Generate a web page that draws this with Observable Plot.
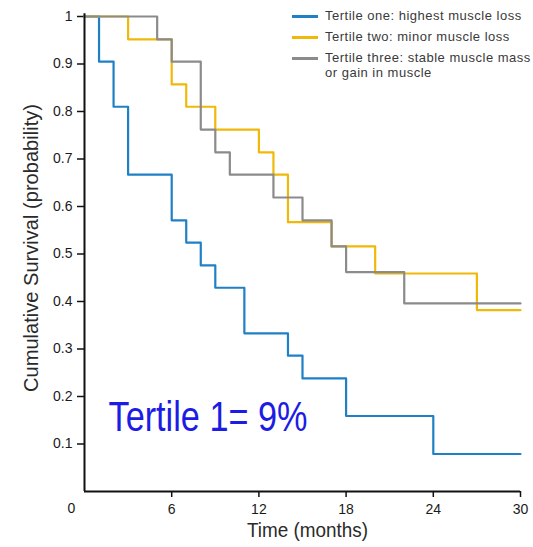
<!DOCTYPE html>
<html>
<head>
<meta charset="utf-8">
<script src="https://cdn.jsdelivr.net/npm/d3@7"></script>
<script src="https://cdn.jsdelivr.net/npm/@observablehq/plot@0.6"></script>
<style>
  html, body { margin: 0; padding: 0; background: #fff; }
  #wrap { position: relative; width: 533px; height: 547px; }
  #legend { position: absolute; left: 292px; top: 8px; font-family: "Liberation Sans", Arial, sans-serif; font-size: 13px; letter-spacing: 0.5px; color: #3a3a3a; line-height: 15px; }
  .row { display: flex; align-items: flex-start; margin-bottom: 6px; }
  .sw { width: 26px; height: 2.5px; margin-top: 7px; margin-right: 7px; flex: none; }
</style>
</head>
<body>
<div id="wrap"><div id="legend"></div></div>
<script>
const seriesNames = [
  "Tertile one: highest muscle loss",
  "Tertile two: minor muscle loss",
  "Tertile three: stable muscle mass\nor gain in muscle"
];
const seriesColors = ["#1f80c6", "#f0b90a", "#8b8b8b"];

const t1Time = [0, 1, 2, 3, 6, 7, 8, 9, 11, 14, 15, 18, 24, 30];
const t1Surv = [1, 0.905, 0.81, 0.667, 0.571, 0.524, 0.476, 0.429, 0.333, 0.286, 0.238, 0.159, 0.079, 0.079];

const t2Time = [0, 3, 6, 7, 9, 12, 13, 14, 17, 20, 27, 30];
const t2Surv = [1, 0.952, 0.857, 0.81, 0.762, 0.714, 0.667, 0.567, 0.516, 0.459, 0.382, 0.382];

const t3Time = [0, 5, 6, 8, 9, 10, 13, 15, 17, 18, 22, 30];
const t3Surv = [1, 0.952, 0.905, 0.762, 0.714, 0.667, 0.619, 0.571, 0.516, 0.462, 0.396, 0.396];

const xTicks = [6, 12, 18, 24, 30];
const yTicks = [0.1, 0.2, 0.3, 0.4, 0.5, 0.6, 0.7, 0.8, 0.9, 1];
const xLabel = "Time (months)";
const yLabel = "Cumulative Survival (probability)";
const annotation = "Tertile 1= 9%";
const originLabel = "0";

const toRows = (times, survs, k) => times.map((t, i) => ({time: t, surv: survs[i], series: seriesNames[k]}));
const data = [
  ...toRows(t1Time, t1Surv, 0),
  ...toRows(t2Time, t2Surv, 1),
  ...toRows(t3Time, t3Surv, 2)
];

const font = "'Liberation Sans', Arial, sans-serif";

const plot = Plot.plot({
  width: 533,
  height: 547,
  marginLeft: 84,
  marginRight: 13,
  marginTop: 16,
  marginBottom: 56,
  style: {fontFamily: font, background: "#fff", color: "#1a1a1a", overflow: "visible"},
  x: {domain: [0, 30]},
  y: {domain: [0, 1]},
  color: {domain: seriesNames, range: seriesColors},
  marks: [
    Plot.axisX({ticks: xTicks, tickSize: 6, tickPadding: 7, fontSize: 14, label: null, stroke: "#111", strokeWidth: 1.5}),
    Plot.axisY({ticks: yTicks, tickSize: 7, tickPadding: 5, fontSize: 14, label: null, stroke: "#111", strokeWidth: 1.5,
      tickFormat: d => d === 1 ? "1" : d.toFixed(1)}),
    Plot.line(data, {x: "time", y: "surv", z: "series", stroke: "series", curve: "step-after", strokeWidth: 2.2}),
    Plot.ruleX([0], {stroke: "#111", strokeWidth: 2, y1: 0, y2: 1.006}),
    Plot.ruleY([0], {stroke: "#111", strokeWidth: 2}),
    Plot.text([annotation], {text: d => d, frameAnchor: "bottom-left", dx: 24, dy: -61, textAnchor: "start", fontSize: 42, fill: "#1c1ce4"}),
    Plot.text([yLabel], {text: d => d, frameAnchor: "left", textAnchor: "middle", rotate: -90, dx: -53, dy: -6, fontSize: 20, fill: "#2a2a2a"}),
    Plot.text([xLabel], {text: d => d, frameAnchor: "bottom", textAnchor: "middle", dx: 5, dy: 45, fontSize: 21, fill: "#2a2a2a"}),
    Plot.text([originLabel], {text: d => d, frameAnchor: "bottom-left", dx: -17, dy: 21, fontSize: 14, fill: "#1a1a1a"})
  ]
});

// condense the label texts to the reference's narrow type
const squeeze = {[annotation]: 199, [xLabel]: 121, [yLabel]: 288};
d3.select(plot).selectAll("text").each(function () {
  const L = squeeze[this.textContent];
  if (L) {
    this.setAttribute("textLength", L);
    this.setAttribute("lengthAdjust", "spacingAndGlyphs");
  }
});

const wrap = document.getElementById("wrap");
wrap.insertBefore(plot, wrap.firstChild);

const legend = document.getElementById("legend");
seriesNames.forEach((name, i) => {
  const row = document.createElement("div");
  row.className = "row";
  const sw = document.createElement("div");
  sw.className = "sw";
  sw.style.background = seriesColors[i];
  const label = document.createElement("div");
  label.style.whiteSpace = "pre";
  label.textContent = name;
  row.appendChild(sw);
  row.appendChild(label);
  legend.appendChild(row);
});
</script>
</body>
</html>
